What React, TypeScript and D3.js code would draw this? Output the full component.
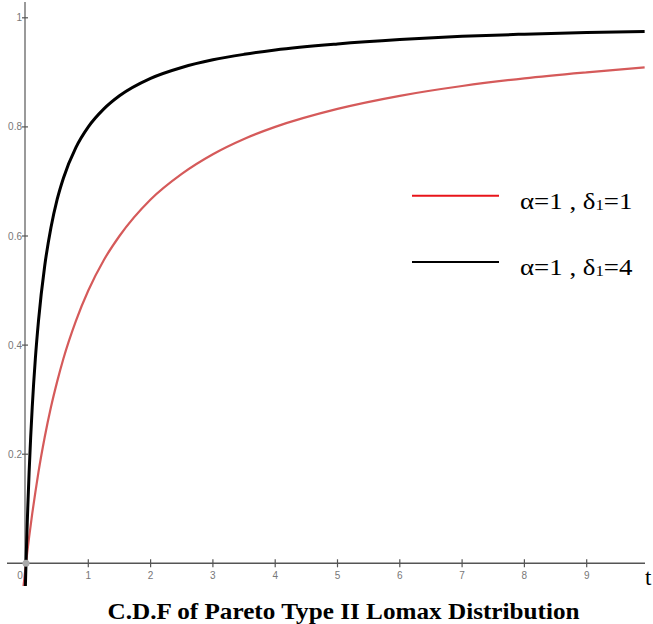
import React from "react";
import * as d3 from "d3";

const W = 653;
const H = 624;

const redT = [-0.04, 0, 0.02, 0.05, 0.1, 0.15, 0.2, 0.3, 0.4, 0.5, 0.6, 0.8, 1, 1.25, 1.5, 2, 2.5, 3, 3.5, 4, 5, 6, 7, 8, 9, 9.93];
const redF = [-0.042, 0, 0.02, 0.048, 0.091, 0.13, 0.167, 0.231, 0.286, 0.333, 0.375, 0.444, 0.5, 0.556, 0.6, 0.667, 0.714, 0.75, 0.778, 0.8, 0.833, 0.857, 0.875, 0.889, 0.9, 0.909];

const blackT = [-0.01, 0, 0.01, 0.02, 0.03, 0.05, 0.075, 0.1, 0.15, 0.2, 0.3, 0.4, 0.5, 0.6, 0.8, 1, 1.25, 1.5, 2, 2.5, 3, 3.5, 4, 5, 6, 7, 8, 9, 9.93];
const blackF = [-0.042, 0, 0.038, 0.074, 0.107, 0.167, 0.231, 0.286, 0.375, 0.444, 0.545, 0.615, 0.667, 0.706, 0.762, 0.8, 0.833, 0.857, 0.889, 0.909, 0.923, 0.933, 0.941, 0.952, 0.96, 0.966, 0.97, 0.973, 0.975];

const xTicks = [0, 1, 2, 3, 4, 5, 6, 7, 8, 9];
const yTicks = [0.2, 0.4, 0.6, 0.8, 1];
const yTickLabels = ["0.2", "0.4", "0.6", "0.8", "1"];

const legendLabels = ["α=1 , δ", "α=1 , δ"];
const legendSub = ["1", "1"];
const legendEnd = ["=1", "=4"];
const title = "C.D.F of Pareto Type II Lomax Distribution";

export default function App() {
  const x = d3.scaleLinear().domain([0, 10]).range([26, 649]);
  const y = d3.scaleLinear().domain([0, 1]).range([563.3, 17.8]);

  const line = d3
    .line<[number, number]>()
    .x((d) => x(d[0]))
    .y((d) => y(d[1]))
    .curve(d3.curveMonotoneX);

  const redPts: [number, number][] = redT.map((t, i) => [t, redF[i]]);
  const blackPts: [number, number][] = blackT.map((t, i) => [t, blackF[i]]);

  const tickFont = "'Liberation Sans Narrow', 'Arial Narrow', 'Liberation Sans', sans-serif";
  const serif = "'Liberation Serif', 'Times New Roman', serif";

  return (
    <svg
      width={W}
      height={H}
      style={{ position: "absolute", left: 0, top: 0, background: "#fff" }}
    >
      <defs>
        <clipPath id="clip">
          <rect x={0} y={0} width={W} height={586} />
        </clipPath>
      </defs>
      {/* y axis */}
      <line x1={x(0) - 1} x2={x(0) - 1} y1={2} y2={563} stroke="#9a9a9a" strokeWidth={2} />
      {yTicks.map((v, i) => (
        <g key={v}>
          <line x1={x(0) - 4} x2={x(0) + 2} y1={y(v)} y2={y(v)} stroke="#555" strokeWidth={1.2} />
          <text
            x={x(0) - 4}
            y={y(v) + 3.5}
            textAnchor="end"
            fontSize={10}
            fill="#777"
            fontFamily={tickFont}
          >
            {yTickLabels[i]}
          </text>
        </g>
      ))}
      {/* x axis */}
      <line x1={7} x2={645} y1={y(0)} y2={y(0)} stroke="#555" strokeWidth={1.6} />
      {xTicks.map((v) => (
        <g key={v}>
          {v > 0 && (
            <line x1={x(v)} x2={x(v)} y1={y(0) - 4} y2={y(0) + 4} stroke="#555" strokeWidth={1.2} />
          )}
          <text
            x={v === 0 ? x(0) - 6 : x(v)}
            y={579}
            textAnchor="middle"
            fontSize={10}
            fill="#777"
            fontFamily={tickFont}
          >
            {v}
          </text>
        </g>
      ))}
      <text x={645} y={585} fontSize={23} fill="#000" fontFamily={serif}>
        t
      </text>
      {/* curves */}
      <g clipPath="url(#clip)">
        <path d={line(redPts) || ""} fill="none" stroke="#d55a5a" strokeWidth={2.2} />
        <path d={line(blackPts) || ""} fill="none" stroke="#000" strokeWidth={3} />
      </g>
      <circle cx={x(0)} cy={y(0)} r={3.5} fill="#aaa" />
      {/* legend */}
      {[0, 1].map((i) => {
        const ly = i === 0 ? 195.7 : 262;
        return (
          <g key={i}>
            <line
              x1={412}
              x2={499}
              y1={ly}
              y2={ly}
              stroke={i === 0 ? "#e8141a" : "#000"}
              strokeWidth={2}
            />
            <g transform={`translate(520,${ly + 12.8}) scale(1.12,1)`}>
              <text x={0} y={0} fontSize={24} fontFamily={serif} fill="#000">
                {legendLabels[i]}
                <tspan fontSize={15} dy={1}>{legendSub[i]}</tspan>
                <tspan dy={-1}>{legendEnd[i]}</tspan>
              </text>
            </g>
          </g>
        );
      })}
      {/* title */}
      <g transform="translate(343.5,619) scale(1.05,1)">
        <text
          x={0}
          y={0}
          textAnchor="middle"
          fontSize={24}
          fontWeight="bold"
          fontFamily={serif}
          fill="#000"
        >
          {title}
        </text>
      </g>
    </svg>
  );
}
